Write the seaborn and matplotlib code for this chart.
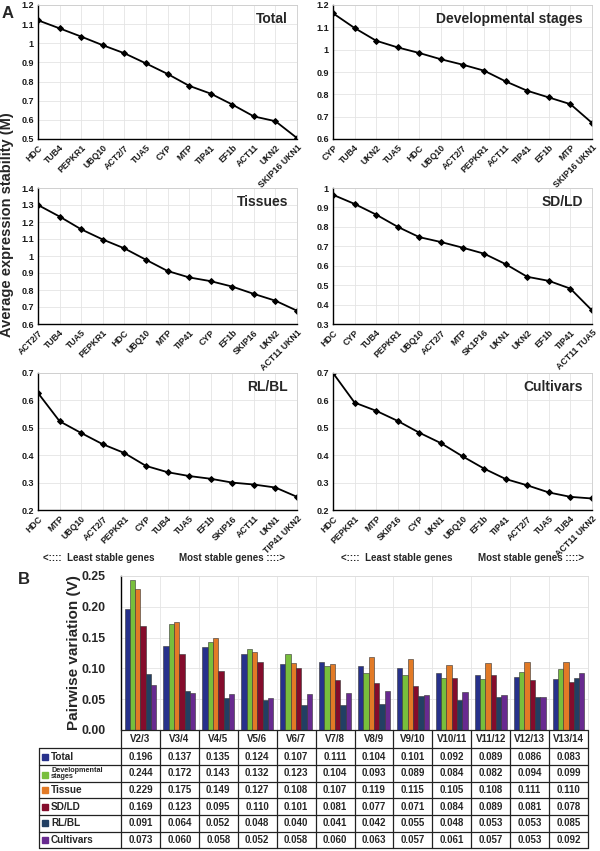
import numpy as np
import pandas as pd
import matplotlib.pyplot as plt
import seaborn as sns

# ---- panel A: geNorm average expression stability (M), least -> most stable
total_genes = ['HDC', 'TUB4', 'PEPKR1', 'UBQ10', 'ACT2/7', 'TUA5', 'CYP', 'MTP',
               'TIP41', 'EF1b', 'ACT11', 'UKN2', 'SKIP16 UKN1']
total_m = [1.120, 1.078, 1.035, 0.990, 0.948, 0.895, 0.840, 0.778, 0.737, 0.680, 0.618, 0.593, 0.505]

dev_genes = ['CYP', 'TUB4', 'UKN2', 'TUA5', 'HDC', 'UBQ10', 'ACT2/7', 'PEPKR1',
             'ACT11', 'TIP41', 'EF1b', 'MTP', 'SKIP16 UKN1']
dev_m = [1.163, 1.097, 1.040, 1.010, 0.985, 0.957, 0.933, 0.906, 0.858, 0.816, 0.786, 0.756, 0.672]

tissue_genes = ['ACT2/7', 'TUB4', 'TUA5', 'PEPKR1', 'HDC', 'UBQ10', 'MTP', 'TIP41',
                'CYP', 'EF1b', 'SKIP16', 'UKN2', 'ACT11 UKN1']
tissue_m = [1.300, 1.232, 1.157, 1.097, 1.045, 0.978, 0.912, 0.874, 0.852, 0.820, 0.777, 0.737, 0.678]

sdld_genes = ['HDC', 'CYP', 'TUB4', 'PEPKR1', 'UBQ10', 'ACT2/7', 'MTP', 'SK1P16',
              'UKN1', 'UKN2', 'EF1b', 'TIP41', 'ACT11 TUA5']
sdld_m = [0.965, 0.918, 0.863, 0.800, 0.747, 0.722, 0.693, 0.662, 0.608, 0.543, 0.522, 0.482, 0.370]

rlbl_genes = ['HDC', 'MTP', 'UBQ10', 'ACT2/7', 'PEPKR1', 'CYP', 'TUB4', 'TUA5',
              'EF1b', 'SKIP16', 'ACT11', 'UKN1', 'TIP41 UKN2']
rlbl_m = [0.627, 0.524, 0.481, 0.440, 0.408, 0.361, 0.338, 0.324, 0.314, 0.300, 0.293, 0.282, 0.248]

cult_genes = ['HDC', 'PEPKR1', 'MTP', 'SKIP16', 'CYP', 'UKN1', 'UBQ10', 'EF1b',
              'TIP41', 'ACT2/7', 'TUA5', 'TUB4', 'ACT11 UKN2']
cult_m = [0.700, 0.592, 0.562, 0.525, 0.482, 0.444, 0.396, 0.351, 0.313, 0.290, 0.264, 0.248, 0.242]

# ---- panel B: pairwise variation (V)
pairs = ['V2/3', 'V3/4', 'V4/5', 'V5/6', 'V6/7', 'V7/8', 'V8/9', 'V9/10',
         'V10/11', 'V11/12', 'V12/13', 'V13/14']
v_total = [0.196, 0.137, 0.135, 0.124, 0.107, 0.111, 0.104, 0.101, 0.092, 0.089, 0.086, 0.083]
v_dev = [0.244, 0.172, 0.143, 0.132, 0.123, 0.104, 0.093, 0.089, 0.084, 0.082, 0.094, 0.099]
v_tissue = [0.229, 0.175, 0.149, 0.127, 0.108, 0.107, 0.119, 0.115, 0.105, 0.108, 0.111, 0.110]
v_sdld = [0.169, 0.123, 0.095, 0.110, 0.101, 0.081, 0.077, 0.071, 0.084, 0.089, 0.081, 0.078]
v_rlbl = [0.091, 0.064, 0.052, 0.048, 0.040, 0.041, 0.042, 0.055, 0.048, 0.053, 0.053, 0.085]
v_cult = [0.073, 0.060, 0.058, 0.052, 0.058, 0.060, 0.063, 0.057, 0.061, 0.057, 0.053, 0.092]

set_names = ['Total', 'Developmental\nstages', 'Tissue', 'SD/LD', 'RL/BL', 'Cultivars']
set_colors = ['#27318b', '#78be3c', '#e27a26', '#840c2c', '#223f63', '#682a90']

sns.set_style('white')
plt.rcParams['font.family'] = ['Liberation Sans', 'DejaVu Sans']
plt.rcParams['font.weight'] = 'bold'

fig = plt.figure(figsize=(6, 8.51), dpi=100)
W, H = 600.0, 851.0


def px_axes(x0, y0, x1, y1):
    # axes from pixel box (top-left origin)
    return fig.add_axes([x0 / W, 1 - y1 / H, (x1 - x0) / W, (y1 - y0) / H])


panels = [
    ('Total', total_genes, total_m, (0.5, 1.2), (38, 5, 297, 139)),
    ('Developmental stages', dev_genes, dev_m, (0.6, 1.2), (333, 5, 592, 139)),
    ('Tissues', tissue_genes, tissue_m, (0.6, 1.4), (38, 188, 297, 324)),
    ('SD/LD', sdld_genes, sdld_m, (0.3, 1.0), (333, 188, 592, 324)),
    ('RL/BL', rlbl_genes, rlbl_m, (0.2, 0.7), (38, 373, 297, 510)),
    ('Cultivars', cult_genes, cult_m, (0.2, 0.7), (333, 373, 592, 510)),
]

grid_col = '#e4e4e4'

for title, genes, m, ylim, box in panels:
    ax = px_axes(*box)
    pos = np.arange(len(genes))
    sns.lineplot(x=pos, y=m, color='black', linewidth=1.3, marker='D',
                 markersize=3, markeredgecolor='black', ax=ax)
    ax.set_xlim(0, len(genes) - 1)
    ax.set_ylim(*ylim)
    yt = np.round(np.arange(ylim[0], ylim[1] + 0.001, 0.1), 2)
    ax.set_yticks(yt)
    ax.set_yticklabels([f'{v:g}' for v in yt], fontsize=6.5, fontweight='bold', color='#1a1a1a')
    ax.set_xticks(pos)
    ax.set_xticklabels(genes, rotation=45, ha='right', va='top', rotation_mode='anchor',
                       fontsize=6.3, fontweight='bold', color='#1a1a1a')
    ax.tick_params(length=0, pad=3)
    ax.grid(True, color=grid_col, linewidth=0.6)
    for s in ['left', 'bottom']:
        ax.spines[s].set_color('black')
        ax.spines[s].set_linewidth(1.0)
    for s in ['top', 'right']:
        ax.spines[s].set_color('#cccccc')
        ax.spines[s].set_linewidth(0.6)
    ax.text(0.965, 0.95, title, transform=ax.transAxes, ha='right', va='top',
            fontsize=10, fontweight='bold')

for xc in (99, 397):
    fig.text(xc / W, 1 - 558 / H, '<::::  Least stable genes', ha='center', va='center',
             fontsize=7, fontweight='bold')
for xc in (232, 531):
    fig.text(xc / W, 1 - 558 / H, 'Most stable genes ::::>', ha='center', va='center',
             fontsize=7, fontweight='bold')

fig.text(8 / W, 1 - 13 / H, 'A', fontsize=12, fontweight='bold', ha='center', va='center')
fig.text(7 / W, 1 - 225 / H, 'Average expression stability (M)', rotation=90,
         fontsize=10.5, fontweight='bold', ha='center', va='center')

# ---- panel B bars
df = pd.DataFrame({
    'pair': pairs * 6,
    'set': np.repeat(set_names, len(pairs)),
    'V': v_total + v_dev + v_tissue + v_sdld + v_rlbl + v_cult,
})

bax = px_axes(121, 576, 588, 730)
sns.barplot(data=df, x='pair', y='V', hue='set', order=pairs, hue_order=set_names,
            palette=dict(zip(set_names, set_colors)), saturation=1, width=0.82, gap=0,
            edgecolor='#333333', linewidth=0.4, legend=False, ax=bax)
bax.set_xlim(-0.5, len(pairs) - 0.5)
bax.set_ylim(0, 0.25)
bax.set_yticks(np.arange(0, 0.251, 0.05))
bax.set_yticklabels([f'{v:.2f}' for v in np.arange(0, 0.251, 0.05)], fontsize=8.8,
                    fontweight='bold')
bax.set_xticks(np.arange(-0.5, len(pairs), 1.0))
bax.set_xticklabels([])
bax.set_xlabel('')
bax.set_ylabel('')
bax.tick_params(length=0, pad=11)
bax.grid(True, color=grid_col, linewidth=0.6)
bax.set_axisbelow(True)
bax.spines['left'].set_color('black')
bax.spines['left'].set_linewidth(1.0)
bax.spines['bottom'].set_visible(False)
for s in ['top', 'right']:
    bax.spines[s].set_color('#dddddd')
    bax.spines[s].set_linewidth(0.6)

fig.text(24 / W, 1 - 580 / H, 'B', fontsize=12, fontweight='bold', ha='center', va='center')
fig.text(74 / W, 1 - 653 / H, 'Pairwise variation (V)', rotation=90,
         fontsize=11, fontweight='bold', ha='center', va='center')

# ---- data table under the bars
tax = px_axes(121, 730, 588, 848)
tax.set_xlim(-0.5, len(pairs) - 0.5)
tax.set_ylim(118, 0)
tax.axis('off')
colw = 467 / len(pairs)
xl = -0.5 - (121 - 39) / colw
edges = [0, 18.3, 35, 51.7, 68.3, 85, 101.6, 118]
line_kw = dict(color='#222222', linewidth=0.9, clip_on=False)

tax.plot([-0.5, len(pairs) - 0.5], [0, 0], **line_kw)
for y in edges[1:]:
    tax.plot([xl, len(pairs) - 0.5], [y, y], **line_kw)
for k in range(len(pairs) + 1):
    tax.plot([k - 0.5, k - 0.5], [0, 118], **line_kw)
tax.plot([xl, xl], [edges[1], 118], **line_kw)

for k, p in enumerate(pairs):
    tax.text(k, (edges[0] + edges[1]) / 2, p, ha='center', va='center',
             fontsize=7, fontweight='bold')

rows = [v_total, v_dev, v_tissue, v_sdld, v_rlbl, v_cult]
for r, (name, col, vals) in enumerate(zip(set_names, set_colors, rows)):
    yc = (edges[r + 1] + edges[r + 2]) / 2
    tax.plot([-0.5 - (121 - 45) / colw], [yc + 1.5 if r == 1 else yc], marker='s',
             color=col, markersize=4, clip_on=False)
    fs = 5.2 if r == 1 else 7.2
    tax.text(-0.5 - (121 - 51) / colw, yc, name, ha='left', va='center',
             fontsize=fs, fontweight='bold', linespacing=0.9)
    for k, v in enumerate(vals):
        tax.text(k, yc, f'{v:.3f}', ha='center', va='center', fontsize=7,
                 fontweight='bold')

fig.savefig('out.png', dpi=100)
